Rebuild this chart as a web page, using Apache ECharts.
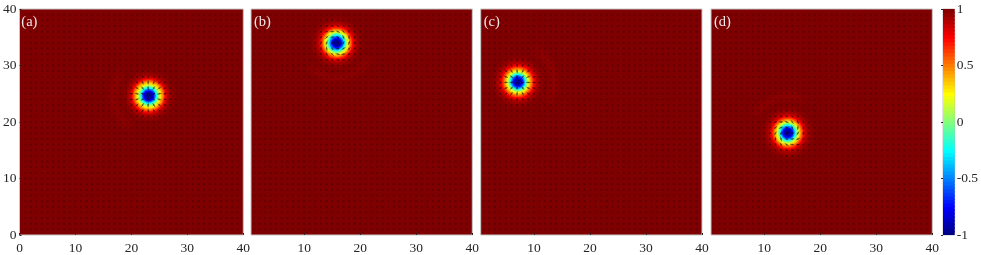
<!DOCTYPE html>
<html><head><meta charset="utf-8">
<style>html,body{margin:0;padding:0;background:#fff}#c{width:981px;height:255px}</style>
<script src="https://cdn.jsdelivr.net/npm/echarts@6/dist/echarts.min.js"></script>
</head><body><div id="c"></div>
<script>
const panelLabels = ['(a)', '(b)', '(c)', '(d)'];
const xTicksFirst = [0, 10, 20, 30, 40];
const xTicksOther = [10, 20, 30, 40];
const yTicks = [0, 10, 20, 30, 40];
const jetStops = ['#00007f', '#0000ff', '#007fff', '#00ffff', '#7fff7f', '#ffff00', '#ff7f00', '#ff0000', '#7f0000'];

// skyrmion centres [x, y]
const centreA = [23.1, 24.65];
const centreB = [15.8, 34.0];
const centreC = [7.14, 27.1];
const centreD = [14.2, 18.1];
// in-plane spin direction relative to radial, degrees
const helicity = [0, 70, 0, 60];

// radial profile of mz
const ringRadii = [5, 4.75, 4.5, 4.25, 4, 3.75, 3.5, 3.25, 3, 2.75, 2.5, 2.25, 2, 1.75, 1.5, 1.25, 1, 0.75, 0.5, 0.25];
const ringsA = [.995, .99, .98, .97, .95, .92, .88, .8, .7, .54, .42, .3, .13, -.05, -.25, -.55, -.75, -.88, -.95, -.99];
const ringsB = [.995, .99, .98, .97, .95, .93, .89, .83, .74, .62, .48, .3, .14, -.06, -.28, -.52, -.72, -.88, -.96, -.99];
const ringsC = [.995, .99, .98, .97, .95, .93, .89, .83, .75, .62, .5, .36, .2, 0, -.2, -.48, -.7, -.85, -.94, -.99];
const ringsD = [.995, .99, .98, .97, .95, .93, .9, .84, .76, .64, .5, .35, .17, -.02, -.22, -.5, -.72, -.86, -.95, -.99];

// faint halo arcs: [inner r, outer r, start deg, end deg, mz]
const arcsA = [[5.2, 7.4, 120, 222, .988], [5.8, 6.8, 130, 212, .976]];
const arcsB = [[5.2, 7.3, 22, 140, .988], [5.8, 6.7, 32, 130, .976]];
const arcsC = [[5.3, 7.5, -65, 36, .988], [5.9, 6.9, -55, 26, .976]];
const arcsD = [[5.5, 7.5, 205, 300, .988], [6.1, 6.9, 215, 290, .976]];

const colorbarLevels = [-0.984, -0.953, -0.921, -0.889, -0.857, -0.825, -0.794, -0.762, -0.73, -0.698, -0.667, -0.635, -0.603, -0.571, -0.54, -0.508, -0.476, -0.444, -0.413, -0.381, -0.349, -0.317, -0.286, -0.254, -0.222, -0.19, -0.159, -0.127, -0.095, -0.063, -0.032, 0, 0.032, 0.063, 0.095, 0.127, 0.159, 0.19, 0.222, 0.254, 0.286, 0.317, 0.349, 0.381, 0.413, 0.444, 0.476, 0.508, 0.54, 0.571, 0.603, 0.635, 0.667, 0.698, 0.73, 0.762, 0.794, 0.825, 0.857, 0.889, 0.921, 0.953, 0.984];

const centres = [centreA, centreB, centreC, centreD];
const rings = [ringsA, ringsB, ringsC, ringsD];
const arcs = [arcsA, arcsB, arcsC, arcsD];
const grids = [
  {left: 18.3, width: 225, top: 9, height: 226},
  {left: 251, width: 221.3, top: 9, height: 226},
  {left: 480.7, width: 221.3, top: 9, height: 226},
  {left: 711, width: 221.3, top: 9, height: 226},
  {left: 943, width: 13, top: 9, height: 226}
];
const serif = '"Liberation Serif","Times New Roman",serif';
const ink = '#262626';

const xAxis = [], yAxis = [], series = [], graphic = [];
const colorSeries = [];

function ringItem(params, api) {
  const c = api.coord([api.value(0), api.value(1)]);
  const r = api.size([api.value(2), 0])[0];
  return {type: 'circle', shape: {cx: c[0], cy: c[1], r}, style: {fill: api.visual('color')}};
}
function arcItem(params, api) {
  const c = api.coord([api.value(0), api.value(1)]);
  const s = api.size([1, 0])[0];
  return {type: 'sector', shape: {cx: c[0], cy: c[1], r0: api.value(2) * s, r: api.value(4) * s,
    startAngle: api.value(5) * Math.PI / 180, endAngle: api.value(6) * Math.PI / 180, clockwise: true},
    style: {fill: api.visual('color')}};
}
function arrowItem(params, api) {
  const c = api.coord([api.value(0), api.value(1)]);
  const s = api.size([1, 0])[0];
  const a = api.value(2), l = api.value(4) * s * 0.42;
  return {type: 'line', shape: {x1: c[0] - Math.cos(a) * l, y1: c[1] + Math.sin(a) * l,
    x2: c[0] + Math.cos(a) * l, y2: c[1] - Math.sin(a) * l},
    style: {stroke: 'rgba(0,0,0,0.45)', lineWidth: 1}};
}
function barItem(params, api) {
  const p = api.coord([0, api.value(1) + 0.024]);
  const q = api.coord([1, api.value(1) - 0.024]);
  return {type: 'rect', shape: {x: p[0], y: p[1], width: q[0] - p[0], height: q[1] - p[1]},
    style: {fill: api.visual('color')}};
}

const dotSites = [];
for (let i = 1; i < 40; i++) for (let j = 1; j < 40; j++) dotSites.push([i, j]);

panelLabels.forEach((lab, k) => {
  const first = k === 0;
  const ticks = first ? xTicksFirst : xTicksOther;
  xAxis.push({type: 'value', gridIndex: k, min: first ? 0 : 0.5, max: 40,
    axisLine: {show: false}, splitLine: {show: false},
    axisTick: {show: true, inside: true, length: 2, customValues: ticks, lineStyle: {color: ink}},
    axisLabel: {customValues: ticks, color: ink, fontFamily: serif, fontSize: 13.5, margin: 6,
      hideOverlap: false, showMinLabel: true, showMaxLabel: true}});
  yAxis.push({type: 'value', gridIndex: k, min: 0, max: 40,
    axisLine: {show: false}, splitLine: {show: false},
    axisTick: {show: first, inside: true, length: 2, customValues: yTicks, lineStyle: {color: ink}},
    axisLabel: {show: first, customValues: yTicks, color: ink, fontFamily: serif, fontSize: 13.5, margin: 3,
      showMinLabel: true, showMaxLabel: true}});

  const c = centres[k];
  const ringData = ringRadii.map((r, i) => [c[0], c[1], r, rings[k][i]]);
  const arcData = arcs[k].map(a => [c[0], c[1], a[0], a[4], a[1], a[2], a[3]]);
  colorSeries.push(series.length);
  series.push({type: 'custom', xAxisIndex: k, yAxisIndex: k, silent: true, animation: false, z: 2,
    dimensions: ['x', 'y', 'r', 'mz'], encode: {x: 0, y: 1}, data: ringData, renderItem: ringItem, clip: true});
  colorSeries.push(series.length);
  series.push({type: 'custom', xAxisIndex: k, yAxisIndex: k, silent: true, animation: false, z: 1,
    dimensions: ['x', 'y', 'r0', 'mz', 'r1', 'a0', 'a1'], encode: {x: 0, y: 1}, data: arcData, renderItem: arcItem, clip: true});

  series.push({type: 'scatter', xAxisIndex: k, yAxisIndex: k, silent: true, animation: false, z: 3,
    symbol: 'rect', symbolSize: 1.8, progressive: 0, large: false,
    itemStyle: {color: '#2a0000', opacity: 0.38}, data: dotSites});

  const arrows = [];
  const hel = helicity[k] * Math.PI / 180;
  dotSites.forEach(s => {
    const dx = s[0] - c[0], dy = s[1] - c[1];
    const d = Math.hypot(dx, dy);
    if (d > 4.75) return;
    let idx = ringRadii.findIndex(r => r <= d + 0.125);
    if (idx < 0) idx = ringRadii.length - 1;
    const mz = rings[k][idx];
    arrows.push([s[0], s[1], Math.atan2(dy, dx) + hel, mz, Math.sqrt(1 - mz * mz)]);
  });
  series.push({type: 'custom', xAxisIndex: k, yAxisIndex: k, silent: true, animation: false, z: 4,
    dimensions: ['x', 'y', 'a', 'mz', 'len'], encode: {x: 0, y: 1}, data: arrows, renderItem: arrowItem, clip: true});

  graphic.push({type: 'text', left: grids[k].left + 3, top: 15, z: 10,
    style: {text: lab, fill: '#f4e8e8', font: '14.5px ' + serif}});
});

// colour bar
xAxis.push({type: 'value', gridIndex: 4, min: 0, max: 1, axisLine: {show: false}, axisTick: {show: false},
  axisLabel: {show: false}, splitLine: {show: false}});
yAxis.push({type: 'value', gridIndex: 4, min: -1, max: 1, position: 'right', interval: 0.5,
  axisLine: {show: false}, splitLine: {show: false},
  axisTick: {show: true, inside: true, length: 2, lineStyle: {color: ink}},
  axisLabel: {color: ink, fontFamily: serif, fontSize: 13.5, margin: 2, showMinLabel: true, showMaxLabel: true,
    formatter: v => String(v)}});
colorSeries.push(series.length);
series.push({type: 'custom', xAxisIndex: 4, yAxisIndex: 4, silent: true, animation: false, z: 2,
  dimensions: ['x', 'y', 'p', 'mz'], encode: {x: 0, y: 1},
  data: colorbarLevels.map(v => [0.5, v, 0, v]), renderItem: barItem, clip: true});

const chart = echarts.init(document.getElementById('c'), null, {renderer: 'canvas'});
chart.setOption({
  backgroundColor: '#fff',
  animation: false,
  tooltip: {show: false},
  grid: grids.map((g, i) => ({...g, show: true, containLabel: false,
    backgroundColor: i < 4 ? '#7f0000' : '#00007f',
    borderColor: '#c9c5c5', borderWidth: 1})),
  xAxis, yAxis, series, graphic,
  visualMap: {type: 'continuous', show: false, min: -1, max: 1, dimension: 3,
    seriesIndex: colorSeries, inRange: {color: jetStops}}
});
</script></body></html>
